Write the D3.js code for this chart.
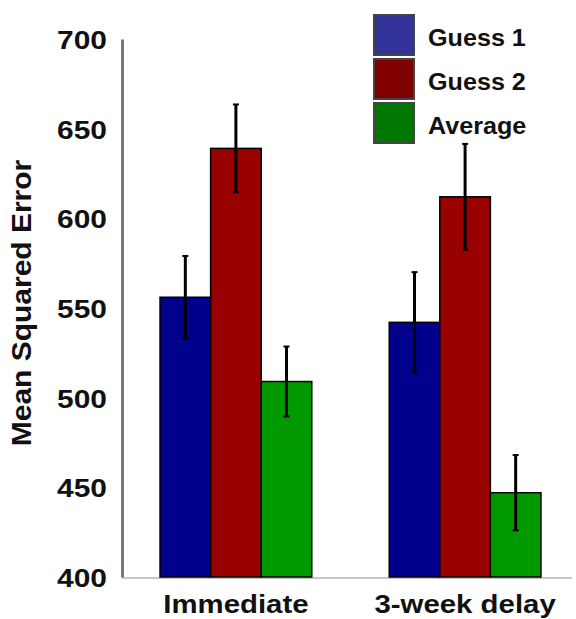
<!DOCTYPE html>
<html>
<head>
<meta charset="utf-8">
<script src="https://cdn.jsdelivr.net/npm/d3@7"></script>
<style>
  body { margin: 0; background: #fff; }
  text { font-family: "Liberation Sans", Arial, sans-serif; font-weight: bold; fill: #111; }
</style>
</head>
<body>
<div id="chart"></div>
<script>
// data
const conditions = ["Immediate", "3-week delay"];
const series = ["Guess 1", "Guess 2", "Average"];
const means = [
    [556, 639, 509],   // Immediate
    [542, 612, 447]    // 3-week delay
];
const errors = [
    [23, 24.5, 19.5],
    [28, 29.5, 21]
];
const yTicks = [400, 450, 500, 550, 600, 650, 700];

const barColors = ["#00008c", "#990000", "#009900"];
const legendColors = ["#333399", "#800000", "#007700"];

const width = 576;
const height = 619;

const svg = d3.select("#chart")
    .append("svg")
    .attr("width", width)
    .attr("height", height);

// the picture is a bit wider than the font, so stretch text sideways
function stretch(sel, k) {
    sel.each(function () {
        const len = this.getComputedTextLength();
        d3.select(this)
            .attr("textLength", len * k)
            .attr("lengthAdjust", "spacingAndGlyphs");
    });
}

const yScale = d3.scaleLinear().domain([400, 700]).range([577, 39]);

const x0 = d3.scaleBand()
    .domain(conditions)
    .range([122, 579])
    .paddingInner(0.338)
    .paddingOuter(0.166);

const x1 = d3.scaleBand()
    .domain(series)
    .range([0, x0.bandwidth()]);

// baseline
svg.append("line")
    .attr("x1", 122).attr("x2", 572)
    .attr("y1", yScale(400) + 1).attr("y2", yScale(400) + 1)
    .attr("stroke", "#c8c8c8")
    .attr("stroke-width", 2);

// y axis
const yAxis = d3.axisLeft(yScale).tickValues(yTicks).tickSize(0).tickPadding(15);
const yG = svg.append("g")
    .attr("transform", "translate(122,0)")
    .call(yAxis);
yG.select(".domain").attr("stroke", "#777").attr("stroke-width", 3);
yG.selectAll(".tick text")
    .attr("font-size", 26)
    .attr("font-family", null)
    .attr("fill", "#111")
    .attr("dy", "0.36em")
    .call(stretch, 1.15);

// y label
svg.append("text")
    .attr("transform", "translate(31,303) rotate(-90)")
    .attr("text-anchor", "middle")
    .attr("font-size", 27)
    .text("Mean Squared Error")
    .call(stretch, 1.11);

// bars
const groups = svg.selectAll("g.group")
    .data(conditions)
    .join("g")
    .attr("class", "group")
    .attr("transform", d => `translate(${x0(d)},0)`);

groups.selectAll("rect")
    .data((d, i) => series.map((s, j) => ({ s: s, v: means[i][j], e: errors[i][j], j: j })))
    .join("rect")
    .attr("x", d => x1(d.s))
    .attr("y", d => yScale(d.v))
    .attr("width", x1.bandwidth())
    .attr("height", d => yScale(400) - yScale(d.v))
    .attr("fill", d => barColors[d.j])
    .attr("stroke", "#000")
    .attr("stroke-width", 1.5);

// error bars
const errG = groups.selectAll("g.err")
    .data((d, i) => series.map((s, j) => ({ s: s, v: means[i][j], e: errors[i][j] })))
    .join("g")
    .attr("class", "err")
    .attr("transform", d => `translate(${x1(d.s) + x1.bandwidth() / 2},0)`);

errG.append("line")
    .attr("y1", d => yScale(d.v + d.e))
    .attr("y2", d => yScale(d.v - d.e))
    .attr("stroke", "#000")
    .attr("stroke-width", 3);

errG.selectAll("line.cap")
    .data(d => [d.v + d.e, d.v - d.e])
    .join("line")
    .attr("class", "cap")
    .attr("x1", -3).attr("x2", 3)
    .attr("y1", d => yScale(d)).attr("y2", d => yScale(d))
    .attr("stroke", "#000")
    .attr("stroke-width", 2);

// x labels
svg.selectAll("text.xlab")
    .data(conditions)
    .join("text")
    .attr("class", "xlab")
    .attr("x", d => x0(d) + x0.bandwidth() / 2)
    .attr("y", 613)
    .attr("text-anchor", "middle")
    .attr("font-size", 26)
    .text(d => d)
    .call(stretch, 1.13);

// legend
const legend = svg.append("g").attr("transform", "translate(374,15)");
const item = legend.selectAll("g")
    .data(series)
    .join("g")
    .attr("transform", (d, i) => `translate(0,${i * 44})`);

item.append("rect")
    .attr("width", 40)
    .attr("height", 40)
    .attr("fill", (d, i) => legendColors[i])
    .attr("stroke", "#444")
    .attr("stroke-width", 2);

item.append("text")
    .attr("x", 54)
    .attr("y", 31)
    .attr("font-size", 23.5)
    .text(d => d)
    .call(stretch, 1.07);
</script>
</body>
</html>
